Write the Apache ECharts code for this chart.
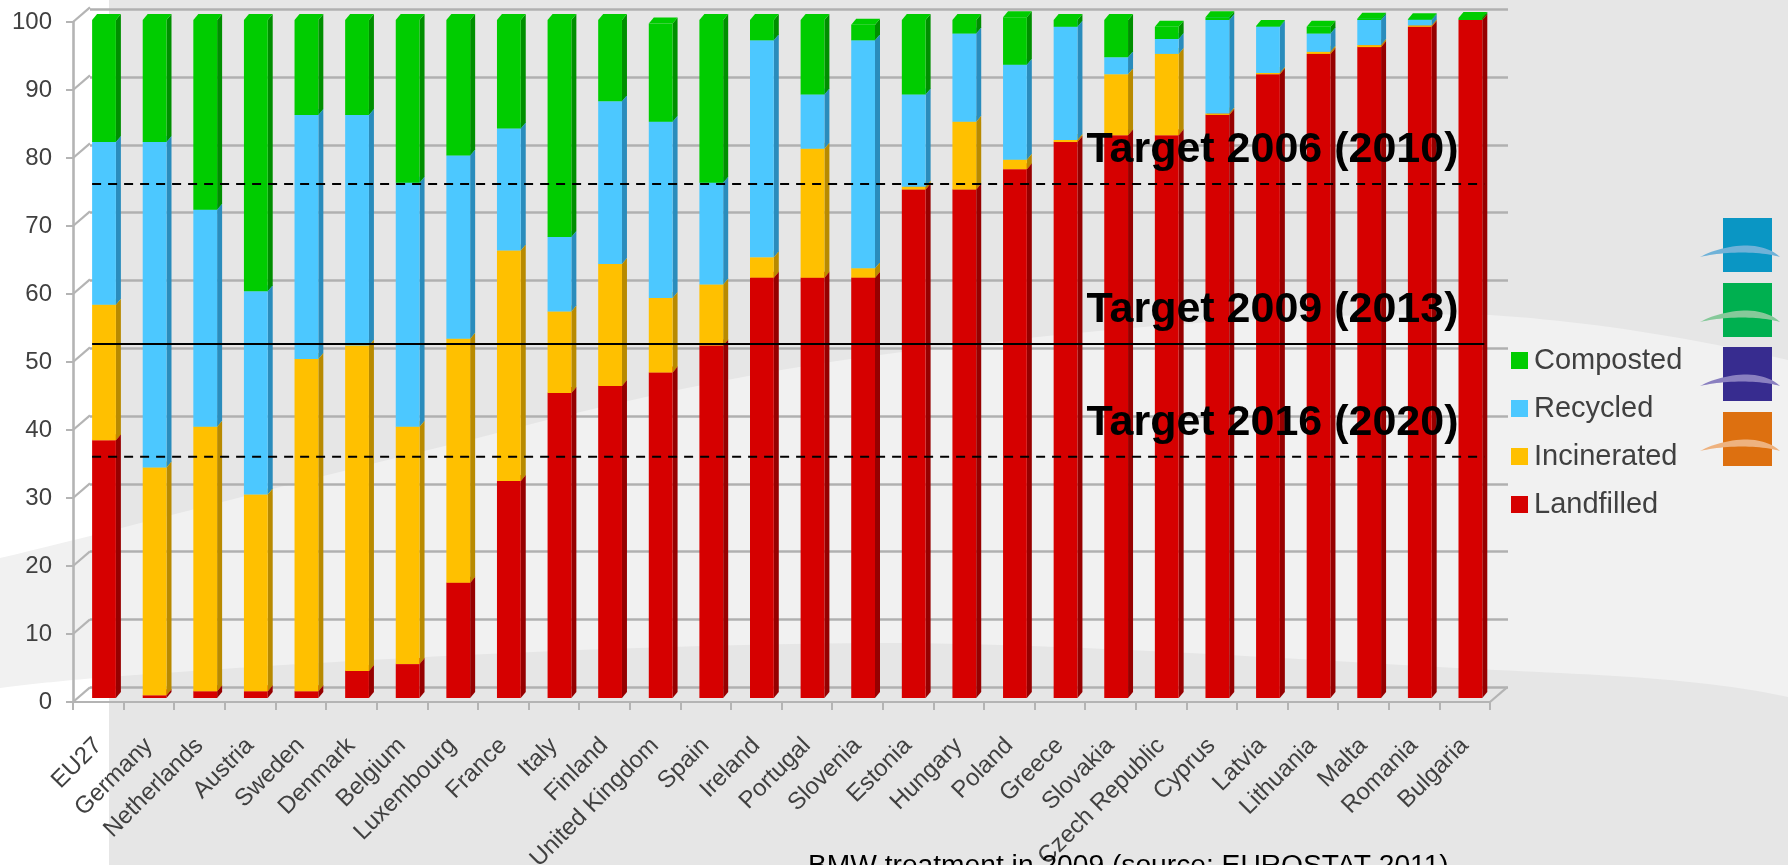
<!DOCTYPE html>
<html><head><meta charset="utf-8">
<style>html,body{margin:0;padding:0;overflow:hidden;background:#fff}#c{width:1788px;height:865px;filter:blur(0.7px)}</style>
<script src="https://cdn.jsdelivr.net/npm/echarts@6/dist/echarts.min.js"></script>
</head><body><div id="c"></div>
<script>
const categories = ['EU27','Germany','Netherlands','Austria','Sweden','Denmark','Belgium','Luxembourg','France','Italy','Finland','United Kingdom','Spain','Ireland','Portugal','Slovenia','Estonia','Hungary','Poland','Greece','Slovakia','Czech Republic','Cyprus','Latvia','Lithuania','Malta','Romania','Bulgaria'];
const landfilled  = [38,0.4,1,1,1,4,5,17,32,45,46,48,52,62,62,62,75,75,78,82,83,83,86,92,95,96,99,100];
const incinerated = [20,33.6,39,29,49,48,35,36,34,12,18,11,9,3,19,1.4,0.4,10,1.4,0.3,9,12,0.2,0.2,0.3,0.3,0.2,0];
const recycled    = [24,48,32,30,36,34,36,27,18,11,24,26,15,32,8,33.6,13.6,13,14,16.7,2.5,2.2,13.8,6.8,2.7,3.7,0.8,0];
const composted   = [18,18,28,40,14,14,24,20,16,32,12,14.5,24,3,11,2.3,11,2,7,1,5.5,1.8,0.4,0.1,1,0.2,0.1,0.3];
const targetLabels = ['Target 2006 (2010)','Target 2009 (2013)','Target 2016 (2020)'];
const targetValues = [75.8,52.2,35.6];
const targetDashed = [true,false,true];
const seriesNames = ['Landfilled','Incinerated','Recycled','Composted'];
const seriesValues = [landfilled,incinerated,recycled,composted];
const frontColors = ['#d60000','#ffc000','#4cc8ff','#00cc00'];
const sideColors  = ['#960000','#b88a00','#2a8cbc','#008f00'];
const yTicks = [0,10,20,30,40,50,60,70,80,90,100];

const chart = echarts.init(document.getElementById('c'), null, {renderer:'canvas'});

const cumulative = categories.map(()=>0);
const barSeries = seriesNames.map((name,k)=>{
  const data = seriesValues[k].map((v,i)=>{
    const s = cumulative[i]; cumulative[i] += v;
    return [i,s,s+v];
  });
  return {
    name, type:'custom', xAxisIndex:2, yAxisIndex:2, coordinateSystem:'cartesian2d',
    itemStyle:{color:frontColors[k]}, z:3+k, data, clip:false,
    encode:{x:0,y:[1,2]},
    renderItem(params,api){
      const i=api.value(0), a=api.coord([i,api.value(1)]), b=api.coord([i,api.value(2)]);
      if (api.value(2)-api.value(1)<=0) return null;
      const band=api.size([1,0])[0], w=band*0.47, d=5, h=6;
      const x0=a[0]-w/2, x1=a[0]+w/2, yb=a[1], yt=b[1];
      return {type:'group',children:[
        {type:'polygon',shape:{points:[[x1,yt],[x1+d,yt-h],[x1+d,yb-h],[x1,yb]]},style:{fill:sideColors[k]}},
        {type:'polygon',shape:{points:[[x0,yt],[x0+d,yt-h],[x1+d,yt-h],[x1,yt]]},style:{fill:frontColors[k]}},
        {type:'rect',shape:{x:x0,y:yt,width:w,height:yb-yt},style:{fill:frontColors[k]}}
      ]};
    }
  };
});

const depthSeries = {
  type:'custom', xAxisIndex:1, yAxisIndex:1, z:1, silent:true, clip:false,
  data:[...yTicks.map(t=>[0,t,-0.5]),[categories.length-1,0,0.5]],
  encode:{x:0,y:1},
  renderItem(params,api){
    const p=api.coord([api.value(0),api.value(1)]), band=api.size([1,0])[0];
    const x=p[0]+api.value(2)*band;
    return {type:'line',shape:{x1:x,y1:p[1],x2:x+17,y2:p[1]-14.7},style:{stroke:'#b4b4b4',lineWidth:2.2}};
  }
};

const targetSeries = {
  type:'custom', xAxisIndex:2, yAxisIndex:2, z:20, silent:true, clip:false,
  data:targetValues.map((v,i)=>[i,v]),
  encode:{y:1},
  renderItem(params,api){
    const idx=api.value(0), v=api.value(1);
    const band=api.size([1,0])[0], w=band*0.47;
    const L=api.coord([0,v]), R=api.coord([categories.length-1,v]);
    return {type:'group',children:[
      {type:'line',shape:{x1:L[0]-w/2,y1:L[1],x2:R[0]+w/2+2,y2:L[1]},
       style:{stroke:'#000',lineWidth:2,lineDash:targetDashed[idx]?[9,7]:null}},
      {type:'text',style:{text:targetLabels[idx],x:R[0]-w/2,y:L[1]-12,align:'right',verticalAlign:'bottom',
        font:'bold 43px "Liberation Sans", Arial, sans-serif',fill:'#000'}}
    ]};
  }
};

// background decoration: cubic bezier chains sampled into polygons
function chain(start,segs){
  const pts=[start]; let p=start;
  segs.forEach(([c1,c2,e])=>{
    for(let n=1;n<=24;n++){const t=n/24,u=1-t;
      pts.push([u*u*u*p[0]+3*u*u*t*c1[0]+3*u*t*t*c2[0]+t*t*t*e[0],
                u*u*u*p[1]+3*u*u*t*c1[1]+3*u*t*t*c2[1]+t*t*t*e[1]]);}
    p=e;
  });
  return pts;
}
const bandTop=chain([0,558],[[[120,530],[300,480],[470,440]],[[640,395],[800,360],[985,343]],[[1180,320],[1350,312],[1490,315]],[[1600,322],[1700,340],[1788,360]]]);
const bandBottom=chain([1788,697],[[[1700,678],[1600,675],[1496,670]],[[1300,660],[1100,645],[900,643]],[[700,643],[400,655],[109,677]],[[70,680],[30,684],[0,688]]]);
const swoosh=(y,rectFill,sw)=>[
  {type:'rect',z:-5,shape:{x:1723,y:y,width:49,height:54},style:{fill:rectFill}},
  {type:'polygon',z:-4,shape:{points:[
    ...chain([1700,y+39],[[[1720,y+28],[1760,y+20],[1780,y+39]]]),
    ...chain([1780,y+39],[[[1760,y+33],[1725,y+33],[1700,y+39]]])]},style:{fill:sw}}
];

const option = {
  animation:false,
  backgroundColor:'#ffffff',
  graphic:{elements:[
    {type:'rect',z:-10,shape:{x:109,y:0,width:1679,height:865},style:{fill:'#e6e6e6'}},
    {type:'polygon',z:-9,shape:{points:[...bandTop,...bandBottom]},style:{fill:'#f1f1f1'}},
    ...swoosh(218,'#0a96c4','#6fb2d8'),
    ...swoosh(283,'#00b050','#86c99a'),
    ...swoosh(347,'#372c8f','#8a80c0'),
    ...swoosh(412,'#dd7010','#eeb27f')
  ]},
  title:{text:'BMW treatment in 2009 (source: EUROSTAT 2011)',left:808,top:852,padding:0,
    textStyle:{fontFamily:'"Liberation Sans", Arial, sans-serif',fontSize:28.2,fontWeight:'normal',color:'#000'}},
  legend:{orient:'vertical',left:1511,top:346,padding:0,itemWidth:17,itemHeight:17,itemGap:19,icon:'rect',selectedMode:false,
    data:['Composted','Recycled','Incinerated','Landfilled'],
    textStyle:{fontFamily:'"Liberation Sans", Arial, sans-serif',fontSize:29,color:'#404040',padding:[0,0,0,1],lineHeight:28}},
  grid:[
    {left:90,width:1418,top:9.3,height:678,outerBoundsMode:'none'},
    {left:73,width:1417,top:22,height:680,outerBoundsMode:'none'},
    {left:78.7,width:1417,top:20,height:678,outerBoundsMode:'none'}
  ],
  xAxis:[
    {gridIndex:0,type:'category',data:categories,axisLine:{show:false},axisTick:{show:false},axisLabel:{show:false},splitLine:{show:false}},
    {gridIndex:1,type:'category',data:categories,
      axisLine:{show:true,lineStyle:{color:'#b4b4b4',width:2.2}},
      axisTick:{show:true,length:8,alignWithLabel:false,lineStyle:{color:'#b4b4b4',width:2}},
      axisLabel:{interval:0,rotate:45,margin:40,hideOverlap:false,fontFamily:'"Liberation Sans", Arial, sans-serif',fontSize:24,color:'#404040'}},
    {gridIndex:2,type:'category',data:categories,axisLine:{show:false},axisTick:{show:false},axisLabel:{show:false}}
  ],
  yAxis:[
    {gridIndex:0,type:'value',min:0,max:100,interval:10,axisLine:{show:false},axisTick:{show:false},axisLabel:{show:false},
      splitLine:{show:true,lineStyle:{color:'#b0b0b0',width:2.6}}},
    {gridIndex:1,type:'value',min:0,max:100,interval:10,
      axisLine:{show:true,lineStyle:{color:'#b4b4b4',width:2.6}},
      axisTick:{show:true,length:7,lineStyle:{color:'#b4b4b4',width:2}},
      axisLabel:{margin:21,fontFamily:'"Liberation Sans", Arial, sans-serif',fontSize:24,color:'#404040'},
      splitLine:{show:false}},
    {gridIndex:2,type:'value',min:0,max:100,interval:10,axisLine:{show:false},axisTick:{show:false},axisLabel:{show:false},splitLine:{show:false}}
  ],
  series:[depthSeries,...barSeries,targetSeries]
};
chart.setOption(option);
</script></body></html>
